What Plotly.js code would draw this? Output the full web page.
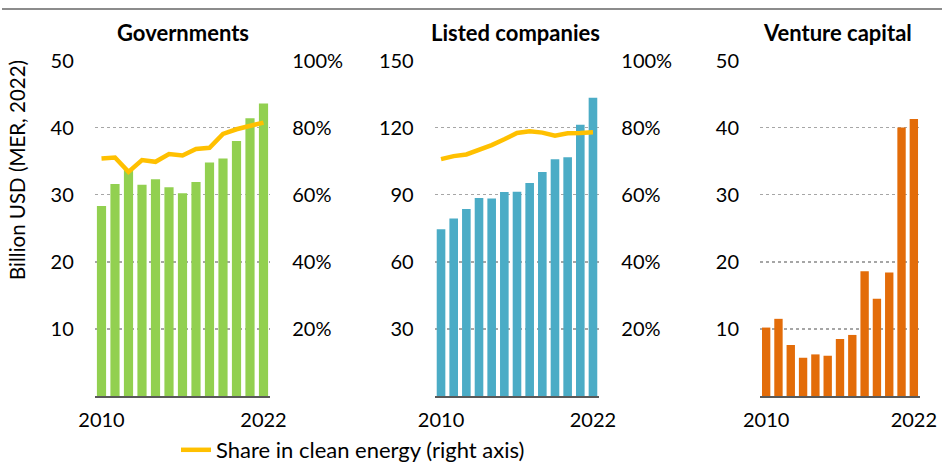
<!DOCTYPE html>
<html>
<head>
<meta charset="utf-8">
<script src="https://cdn.plot.ly/plotly-3.0.1.min.js"></script>
<style>html,body{margin:0;padding:0;background:#fff;}#chart{width:942px;height:462px;}</style>
</head>
<body>
<div id="chart"></div>
<script>
const years = [2010, 2011, 2012, 2013, 2014, 2015, 2016, 2017, 2018, 2019, 2020, 2021, 2022];
const governments = [28.3, 31.6, 33.8, 31.5, 32.3, 31.1, 30.2, 31.9, 34.8, 35.4, 38.0, 41.4, 43.6];
const governmentsShare = [0.708, 0.711, 0.668, 0.703, 0.698, 0.721, 0.717, 0.736, 0.740, 0.781, 0.795, 0.805, 0.815];
const listedCompanies = [74.6, 79.4, 83.6, 88.5, 88.3, 91.2, 91.3, 95.2, 100.1, 105.9, 106.7, 121.3, 133.3];
const listedShare = [0.706, 0.715, 0.720, 0.733, 0.748, 0.765, 0.784, 0.789, 0.785, 0.776, 0.783, 0.784, 0.786];
const ventureCapital = [10.2, 11.5, 7.6, 5.7, 6.2, 6.0, 8.5, 9.1, 18.6, 14.5, 18.4, 40.0, 41.3];
const panelTitles = ["Governments", "Listed companies", "Venture capital"];
const xTicks = [2010, 2022];
const govTicks = [10, 20, 30, 40, 50];
const listedTicks = [30, 60, 90, 120, 150];
const vcTicks = [10, 20, 30, 40, 50];
const shareTicks = [0.2, 0.4, 0.6, 0.8, 1.0];
const yTitle = "Billion USD (MER, 2022)";
const lineName = "Share in clean energy (right axis)";

const FONT = "Lato, 'Open Sans', sans-serif";
const W = 942, H = 462;
const GREEN = "#92D050", BLUE = "#4BACC6", ORANGE = "#E36C09", GOLD = "#FFC000";

const px = v => v / W;
const py = v => 1 - v / H;
const yDom = [py(396), py(60.5)];
const xd1 = [px(94.75), px(270.25)];
const xd2 = [px(434.7), px(599.3)];
const xd3 = [px(760), px(920)];

const traces = [
  {type: "bar", x: years, y: governments, xaxis: "x", yaxis: "y", marker: {color: GREEN}, showlegend: false, hoverinfo: "x+y"},
  {type: "bar", x: years, y: listedCompanies, xaxis: "x2", yaxis: "y3", marker: {color: BLUE}, showlegend: false, hoverinfo: "x+y"},
  {type: "bar", x: years, y: ventureCapital, xaxis: "x3", yaxis: "y5", marker: {color: ORANGE}, showlegend: false, hoverinfo: "x+y"},
  {type: "scatter", mode: "lines", x: years, y: governmentsShare, xaxis: "x", yaxis: "y2", name: lineName,
   line: {color: GOLD, width: 4.5}, showlegend: true},
  {type: "scatter", mode: "lines", x: years, y: listedShare, xaxis: "x2", yaxis: "y4", name: lineName,
   line: {color: GOLD, width: 4.5}, showlegend: false}
];

const tickFont = {family: FONT, size: 20, color: "#000"};

function xAxis(domain, anchor) {
  return {
    domain: domain, anchor: anchor, range: [2009.5, 2022.5],
    tickvals: xTicks, ticktext: xTicks.map(String), tickfont: tickFont,
    showgrid: false, zeroline: false, showline: true, linecolor: "#595959", linewidth: 2,
    ticks: "", ticklabelstandoff: 5, fixedrange: true
  };
}
function yLeft(anchor, range, ticks) {
  return {
    domain: yDom, anchor: anchor, range: range, tickvals: ticks, ticktext: ticks.map(String),
    tickfont: tickFont, showgrid: true, gridcolor: "#a6a6a6", gridwidth: 1.5, griddash: "dot",
    zeroline: false, showline: false, ticks: "", ticklabelstandoff: 20, fixedrange: true
  };
}
function yRight(anchor, overlay) {
  return {
    domain: yDom, anchor: anchor, overlaying: overlay, side: "right", range: [0, 1],
    tickvals: shareTicks, tickformat: ".0%", tickfont: tickFont,
    showgrid: false, zeroline: false, showline: false, ticks: "", ticklabelstandoff: 21, fixedrange: true
  };
}

const titleFont = {family: FONT, size: 22, color: "#000", weight: "bold"};
const annotations = [
  {text: "<b>" + panelTitles[0] + "</b>", x: (xd1[0] + xd1[1]) / 2, y: py(33), xref: "paper", yref: "paper", showarrow: false, font: titleFont, xanchor: "center", yanchor: "middle"},
  {text: "<b>" + panelTitles[1] + "</b>", x: (xd2[0] + xd2[1]) / 2 - px(2), y: py(33), xref: "paper", yref: "paper", showarrow: false, font: titleFont, xanchor: "center", yanchor: "middle"},
  {text: "<b>" + panelTitles[2] + "</b>", x: (xd3[0] + xd3[1]) / 2 - px(3), y: py(33), xref: "paper", yref: "paper", showarrow: false, font: titleFont, xanchor: "center", yanchor: "middle"},
  {text: yTitle, x: px(17), y: py(170), xref: "paper", yref: "paper", showarrow: false, textangle: -90,
   font: {family: FONT, size: 20.5, color: "#000"}, xanchor: "center", yanchor: "middle"}
];

const layout = {
  width: W, height: H,
  margin: {l: 0, r: 0, t: 0, b: 0, pad: 0, autoexpand: false},
  paper_bgcolor: "#fff", plot_bgcolor: "rgba(0,0,0,0)",
  bargap: 0.32,
  font: {family: FONT, color: "#000"},
  xaxis: xAxis(xd1, "y"),
  yaxis: yLeft("x", [0, 50], govTicks),
  yaxis2: yRight("x", "y"),
  xaxis2: xAxis(xd2, "y3"),
  yaxis3: yLeft("x2", [0, 150], listedTicks),
  yaxis4: yRight("x2", "y3"),
  xaxis3: xAxis(xd3, "y5"),
  yaxis5: yLeft("x3", [0, 50], vcTicks),
  showlegend: true,
  legend: {orientation: "h", x: px(176), y: py(450), xanchor: "left", yanchor: "middle",
           font: {family: FONT, size: 22, color: "#000"}, bgcolor: "rgba(0,0,0,0)", borderwidth: 0},
  annotations: annotations,
  shapes: [
    {type: "line", xref: "paper", yref: "paper", x0: px(2), x1: 1, y0: py(9), y1: py(9), line: {color: "#8c8c8c", width: 2}}
  ]
};

Plotly.newPlot("chart", traces, layout, {displayModeBar: false, staticPlot: true});
</script>
</body>
</html>
